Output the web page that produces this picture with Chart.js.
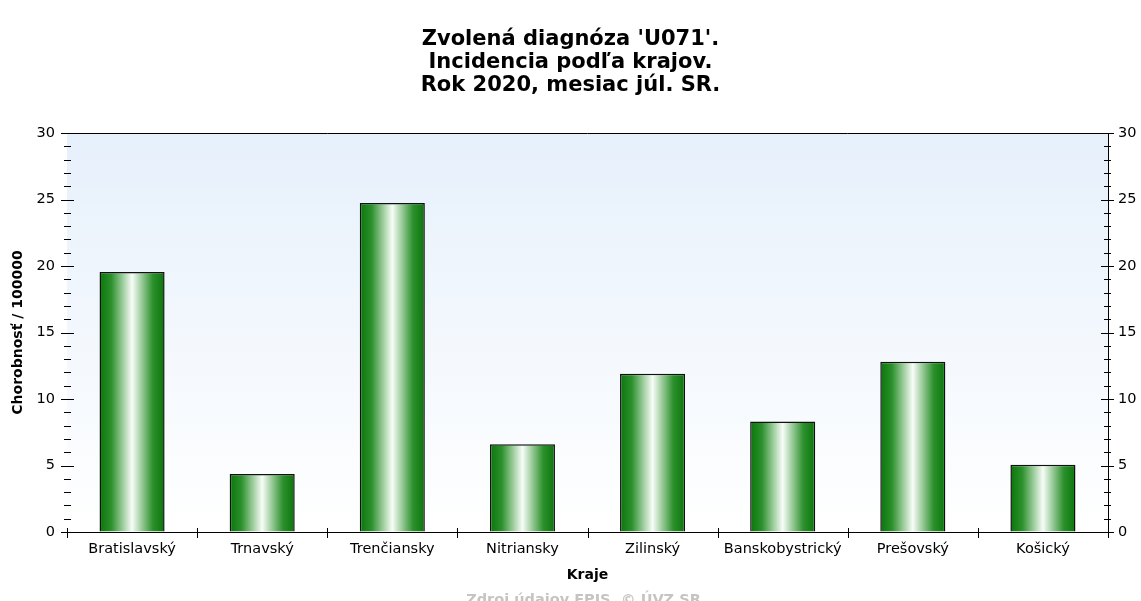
<!DOCTYPE html>
<html>
<head>
<meta charset="utf-8">
<title>Incidencia podľa krajov</title>
<script src="https://cdn.jsdelivr.net/npm/chart.js@4/dist/chart.umd.min.js"></script>
<style>
  html, body { margin: 0; padding: 0; background: #fff; }
  #wrap { position: relative; width: 1141px; height: 601px; }
</style>
</head>
<body>
<div id="wrap"><canvas id="chart" width="1141" height="601"></canvas></div>
<script>
// chart data
const regions = ['Bratislavský', 'Trnavský', 'Trenčiansky', 'Nitriansky', 'Zilinský', 'Banskobystrický', 'Prešovský', 'Košický'];
const incidence = [19.55, 4.36, 24.74, 6.6, 11.9, 8.3, 12.8, 5.05];
const yTicks = [0, 5, 10, 15, 20, 25, 30];

const titleLines = ["Zvolená diagnóza 'U071'.", 'Incidencia podľa krajov.', 'Rok 2020, mesiac júl. SR.'];
const yTitle = 'Chorobnosť / 100000';
const xTitle = 'Kraje';
const sourceNote = 'Zdroj údajov EPIS, © ÚVZ SR';

const FONT = '"DejaVu Sans", Verdana, sans-serif';
const BAR_PCT = 0.5;

// horizontal green-white-green gradient for each bar
function barFill(ctx) {
  const chart = ctx.chart;
  const xs = chart.scales.x;
  if (!xs || ctx.dataIndex == null) return '#1a8a1a';
  const cx = xs.getPixelForValue(ctx.dataIndex);
  const half = xs.width / regions.length * BAR_PCT / 2;
  if (!Number.isFinite(cx) || !Number.isFinite(half) || half <= 0) return '#1a8a1a';
  const g = chart.ctx.createLinearGradient(cx - half, 0, cx + half, 0);
  g.addColorStop(0, '#0a760a');
  g.addColorStop(0.18, '#2c902c');
  g.addColorStop(0.5, '#f8fdf8');
  g.addColorStop(0.82, '#2c902c');
  g.addColorStop(1, '#0a760a');
  return g;
}

const decorations = {
  id: 'decorations',
  beforeDatasetsDraw(chart) {
    const { ctx, chartArea: a } = chart;
    const g = ctx.createLinearGradient(0, a.top, 0, a.bottom);
    g.addColorStop(0, '#e6f0fb');
    g.addColorStop(1, '#ffffff');
    ctx.save();
    ctx.fillStyle = g;
    ctx.fillRect(a.left, a.top, a.right - a.left, a.bottom - a.top);
    ctx.restore();
  },
  afterDraw(chart) {
    const { ctx, chartArea: a, scales } = chart;
    ctx.save();
    ctx.strokeStyle = '#000';
    ctx.lineWidth = 1;
    ctx.beginPath();
    // top frame line
    ctx.moveTo(a.left, a.top + 0.5);
    ctx.lineTo(a.right, a.top + 0.5);

    // y ticks, major every 5, minor every 1
    const ys = scales.y;
    for (let v = 0; v <= 30; v++) {
      const py = Math.round(ys.getPixelForValue(v)) + 0.5;
      const major = v % 5 === 0;
      const l = major ? 6 : 3;
      ctx.moveTo(a.left - l, py);
      ctx.lineTo(a.left + l + 1, py);
      ctx.moveTo(a.right - l - 1, py);
      ctx.lineTo(a.right + l, py);
    }

    // x ticks at category boundaries
    const catW = (a.right - a.left) / regions.length;
    for (let i = 0; i <= regions.length; i++) {
      const px = Math.round(a.left + i * catW) + 0.5;
      ctx.moveTo(px, a.bottom - 4);
      ctx.lineTo(px, a.bottom + 6);
    }
    ctx.stroke();

    // source note, clipped by the canvas bottom like the original
    ctx.fillStyle = '#c4c4c4';
    ctx.font = 'bold 14.5px ' + FONT;
    ctx.textAlign = 'center';
    ctx.textBaseline = 'alphabetic';
    ctx.fillText(sourceNote, (a.left + a.right) / 2 - 4, 604);
    ctx.restore();
  }
};

const tickFont = { family: FONT, size: 14.5 };

new Chart(document.getElementById('chart'), {
  type: 'bar',
  data: {
    labels: regions,
    datasets: [{
      data: incidence,
      backgroundColor: barFill,
      borderColor: '#111',
      borderWidth: 1.5,
      borderSkipped: 'bottom',
      barPercentage: BAR_PCT,
      categoryPercentage: 1
    }]
  },
  options: {
    responsive: false,
    animation: false,
    layout: { padding: 0 },
    plugins: {
      legend: { display: false },
      tooltip: { enabled: false },
      title: {
        display: true,
        text: titleLines,
        color: '#000',
        font: { family: FONT, size: 21, weight: 'bold', lineHeight: '23px' },
        padding: { top: 28.5, bottom: 35.5 }
      }
    },
    scales: {
      x: {
        type: 'category',
        offset: true,
        grid: { display: true, drawOnChartArea: false, drawTicks: false },
        border: { display: true, color: '#000', width: 1 },
        ticks: { color: '#000', font: tickFont, padding: 9, maxRotation: 0, autoSkip: false },
        title: {
          display: true,
          text: xTitle,
          color: '#000',
          font: { family: FONT, size: 14, weight: 'bold' },
          padding: { top: 0, bottom: 17.6 }
        },
        afterFit(scale) { scale.height = 69; }
      },
      y: {
        position: 'left',
        min: 0,
        max: 30,
        afterBuildTicks(scale) { scale.ticks = yTicks.map(v => ({ value: v })); },
        grid: { display: true, drawOnChartArea: false, drawTicks: false },
        border: { display: true, color: '#000', width: 1 },
        ticks: { color: '#000', font: tickFont, padding: 12 },
        title: {
          display: true,
          text: yTitle,
          color: '#000',
          font: { family: FONT, size: 14, weight: 'bold' },
          padding: { top: 9.6, bottom: 0 }
        },
        afterFit(scale) { scale.width = 67; }
      },
      y2: {
        position: 'right',
        min: 0,
        max: 30,
        afterBuildTicks(scale) { scale.ticks = yTicks.map(v => ({ value: v })); },
        grid: { display: true, drawOnChartArea: false, drawTicks: false },
        border: { display: true, color: '#000', width: 1 },
        ticks: { color: '#000', font: tickFont, padding: 10 },
        afterFit(scale) { scale.width = 33; }
      }
    }
  },
  plugins: [decorations]
});
</script>
</body>
</html>
